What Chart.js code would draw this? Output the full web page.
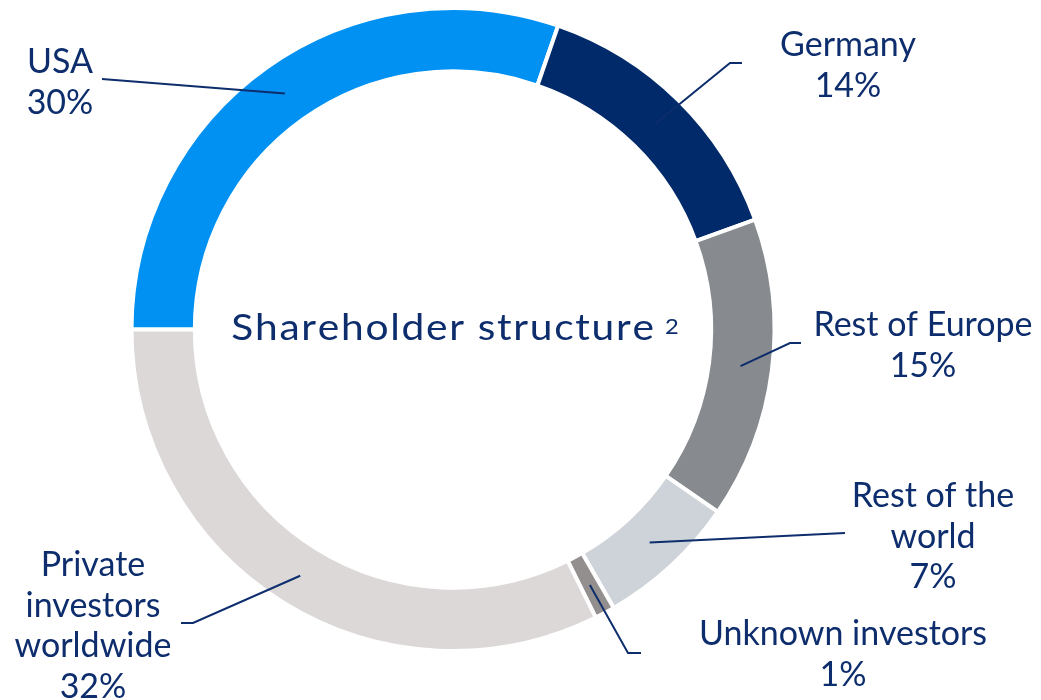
<!DOCTYPE html>
<html>
<head>
<meta charset="utf-8">
<title>Shareholder structure</title>
<script src="https://cdn.jsdelivr.net/npm/chart.js@4.4.1/dist/chart.umd.min.js"></script>
<style>
  html, body { margin: 0; padding: 0; background: #fff; }
  #wrap { width: 1041px; height: 700px; position: relative; }
</style>
</head>
<body>
<div id="wrap"><canvas id="chart"></canvas></div>
<script>
// ===============================
// Data
// ===============================
const categories = ["USA", "Germany", "Rest of Europe", "Rest of the world", "Unknown investors", "Private investors worldwide"];
const shares = [30, 14, 15, 7, 1, 32];
const labelLines = [
  ["USA"],
  ["Germany"],
  ["Rest of Europe"],
  ["Rest of the", "world"],
  ["Unknown investors"],
  ["Private", "investors", "worldwide"]
];
const sliceColors = ["#0091f2", "#002a69", "#878b8f", "#cdd3d8", "#948f8f", "#dcd8d8"];

const NAVY = "#0d2d6c";
const FONT = "Lato, 'Open Sans', sans-serif";

// label placement (text anchor + leader line elbow/end), in canvas pixels
const labelLayout = [
  { x: 60,  y: 73,  elbow: null,       end: [102, 79] },
  { x: 848, y: 56,  elbow: [730, 63],  end: [742, 63] },
  { x: 923, y: 336, elbow: [790, 343], end: [801, 343] },
  { x: 933, y: 507, elbow: null,       end: [845, 533] },
  { x: 843, y: 645, elbow: [628, 653], end: [641, 653] },
  { x: 93,  y: 576, elbow: [193, 623], end: [181, 623] }
];

// ===============================
// Plugins
// ===============================
const leaderPlugin = {
  id: "leaders",
  afterDatasetsDraw(chart) {
    const ctx = chart.ctx;
    const arcs = chart.getDatasetMeta(0).data;
    ctx.save();
    ctx.strokeStyle = NAVY;
    ctx.lineWidth = 2;
    ctx.fillStyle = NAVY;
    ctx.font = "400 34px " + FONT;
    ctx.textAlign = "center";
    ctx.textBaseline = "alphabetic";

    arcs.forEach((arc, i) => {
      const p = arc.getProps(["x", "y", "startAngle", "endAngle", "innerRadius", "outerRadius"], true);
      const mid = (p.startAngle + p.endAngle) / 2;
      const r = (p.innerRadius + p.outerRadius) / 2;
      const sx = p.x + Math.cos(mid) * r;
      const sy = p.y + Math.sin(mid) * r;
      const L = labelLayout[i];

      ctx.beginPath();
      ctx.moveTo(sx, sy);
      if (L.elbow) ctx.lineTo(L.elbow[0], L.elbow[1]);
      ctx.lineTo(L.end[0], L.end[1]);
      ctx.stroke();

      const lines = labelLines[i].concat([shares[i] + "%"]);
      lines.forEach((t, k) => ctx.fillText(t, L.x, L.y + k * 40.5));
    });
    ctx.restore();
  }
};

// width of a string drawn with extra tracking
const spacedWidth = (ctx, text, spacing) => {
  let w = 0;
  for (const ch of text) w += ctx.measureText(ch).width + spacing;
  return w - spacing;
};

const spacedText = (ctx, text, x, y, spacing) => {
  let cx = x;
  for (const ch of text) {
    ctx.fillText(ch, cx, y);
    cx += ctx.measureText(ch).width + spacing;
  }
};

const centerTitle = {
  id: "centerTitle",
  afterDraw(chart) {
    const ctx = chart.ctx;
    const arc = chart.getDatasetMeta(0).data[0];
    const cx = arc.x, cy = arc.y;
    const main = "Shareholder structure";
    const sup = "2";
    const stretch = 1.13;   // the original face is wider than Lato
    const track = 1.5;
    ctx.save();
    ctx.fillStyle = NAVY;
    ctx.textBaseline = "alphabetic";
    ctx.textAlign = "left";
    ctx.font = "400 36px " + FONT;
    const wMain = spacedWidth(ctx, main, track) * stretch;
    ctx.font = "400 21px " + FONT;
    const wSup = ctx.measureText(sup).width * stretch;
    const gap = 11;
    const x0 = cx + 2 - (wMain + gap + wSup) / 2;

    ctx.save();
    ctx.translate(x0, cy + 10);
    ctx.scale(stretch, 1);
    ctx.font = "400 36px " + FONT;
    spacedText(ctx, main, 0, 0, track);
    ctx.restore();

    ctx.save();
    ctx.translate(x0 + wMain + gap, cy + 4);
    ctx.scale(stretch, 1);
    ctx.font = "400 21px " + FONT;
    ctx.fillText(sup, 0, 0);
    ctx.restore();
    ctx.restore();
  }
};

// ===============================
// Chart
// ===============================
new Chart(document.getElementById("chart").getContext("2d"), {
  type: "doughnut",
  data: {
    labels: categories,
    datasets: [{
      data: shares,
      backgroundColor: sliceColors,
      borderColor: "#ffffff",
      borderWidth: 4,
      hoverOffset: 0
    }]
  },
  options: {
    responsive: true,
    maintainAspectRatio: false,
    animation: false,
    rotation: -90,
    radius: 321.5,
    cutout: 263,
    layout: { padding: { left: 0, right: 135, top: 0, bottom: 41 } },
    plugins: {
      legend: { display: false },
      tooltip: { enabled: false }
    }
  },
  plugins: [leaderPlugin, centerTitle]
});
</script>
</body>
</html>
